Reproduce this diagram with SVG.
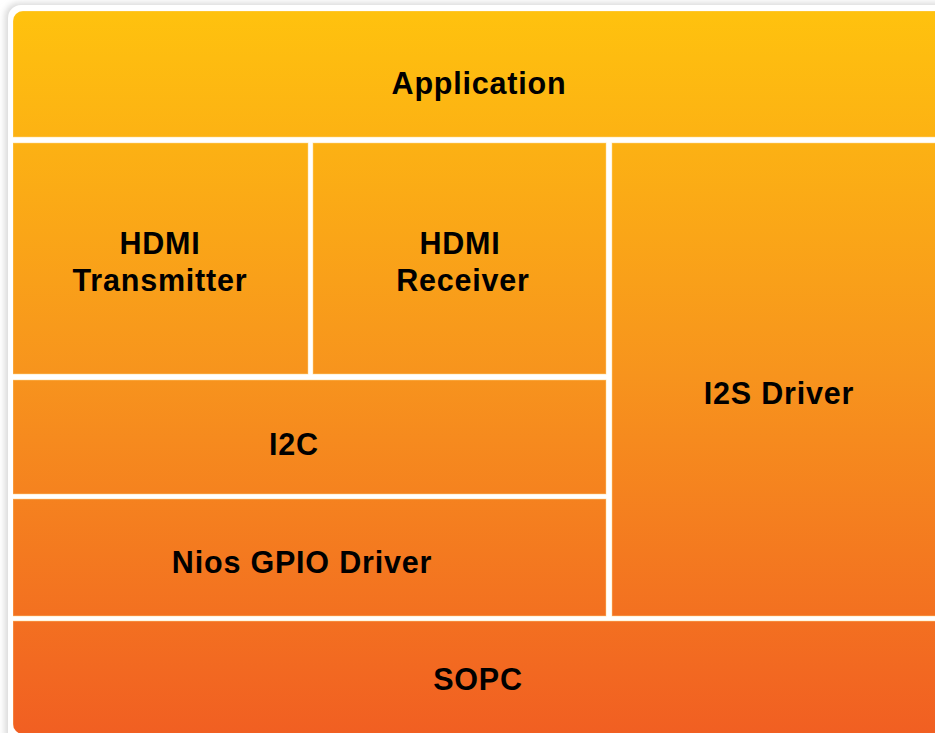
<svg xmlns="http://www.w3.org/2000/svg" width="935" height="733" viewBox="0 0 935 733">
  <style>
    .blk { fill: url(#g); stroke: #ffd98a; stroke-opacity: 0.5; stroke-width: 1; }
    .lbl { font-family: "Liberation Sans", Arial, sans-serif; font-weight: bold; font-size: 30.5px; letter-spacing: 0.8px; fill: #000; text-anchor: middle; }
  </style>
  <defs>
    <linearGradient id="g" gradientUnits="userSpaceOnUse" x1="0" y1="11" x2="0" y2="734">
      <stop offset="0" stop-color="#FFC20E"/>
      <stop offset="0.5" stop-color="#F7941D"/>
      <stop offset="1" stop-color="#F15F22"/>
    </linearGradient>
    <clipPath id="panel">
      <rect x="13" y="11" width="940" height="723" rx="10" ry="10"/>
    </clipPath>
    <filter id="sh" x="-5%" y="-5%" width="110%" height="110%">
      <feGaussianBlur stdDeviation="3"/>
    </filter>
  </defs>
  <rect width="935" height="733" fill="#ffffff"/>
  <rect x="5" y="3" width="960" height="745" rx="14" fill="#d8d8d8" filter="url(#sh)"/>
  <rect x="8" y="5" width="960" height="745" rx="13" fill="#ffffff"/>
  <g clip-path="url(#panel)">
    <g id="application">
      <rect class="blk" x="13" y="11" width="940" height="126"/>
      <text class="lbl" x="479" y="94">Application</text>
    </g>
    <g id="hdmi-transmitter">
      <rect class="blk" x="13" y="143" width="295" height="231"/>
      <text class="lbl" x="160" y="254">HDMI</text>
      <text class="lbl" x="160" y="291">Transmitter</text>
    </g>
    <g id="hdmi-receiver">
      <rect class="blk" x="313" y="143" width="293" height="231"/>
      <text class="lbl" x="460" y="254">HDMI</text>
      <text class="lbl" x="463" y="291">Receiver</text>
    </g>
    <g id="i2s-driver">
      <rect class="blk" x="612" y="143" width="340" height="473"/>
      <text class="lbl" x="779" y="404">I2S Driver</text>
    </g>
    <g id="i2c">
      <rect class="blk" x="13" y="380" width="593" height="114"/>
      <text class="lbl" x="294" y="455">I2C</text>
    </g>
    <g id="nios-gpio-driver">
      <rect class="blk" x="13" y="499" width="593" height="117"/>
      <text class="lbl" x="302" y="573">Nios GPIO Driver</text>
    </g>
    <g id="sopc">
      <rect class="blk" x="13" y="621" width="940" height="120"/>
      <text class="lbl" x="478" y="690">SOPC</text>
    </g>
  </g>
  <g id="connectors"/>
</svg>
